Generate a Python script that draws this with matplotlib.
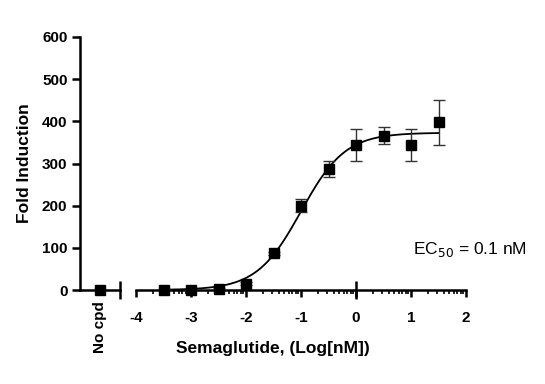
import numpy as np
import matplotlib
matplotlib.use("Agg")
import matplotlib.pyplot as plt

plt.rcParams['font.family'] = ['Liberation Sans', 'DejaVu Sans']
plt.rcParams['axes.unicode_minus'] = False

# data
log_conc = [-3.5, -3.0, -2.5, -2.0, -1.5, -1.0, -0.5, 0.0, 0.5, 1.0, 1.5]
fold = [1, 1, 3, 15, 87, 200, 287, 344, 366, 344, 398]
fold_err = [2, 2, 2, 3, 4, 15, 20, 38, 20, 37, 53]
no_cpd = 1
no_cpd_err = 2

# fitted 4PL parameters (EC50 = 0.1 nM)
bottom, top, log_ec50, hill = 0.0, 373.0, -1.0, 1.08

W, H = 545, 384
fig = plt.figure(figsize=(W / 100, H / 100), dpi=100)

# pixel geometry
y0_px, y600_px = 290, 37
ax_l = fig.add_axes([80 / W, 1 - y0_px / H, 40 / W, (y0_px - y600_px) / H])
ax = fig.add_axes([136 / W, 1 - y0_px / H, 330 / W, (y0_px - y600_px) / H], sharey=ax_l)

lw = 1.8

# small "No cpd" axis
ax_l.set_xlim(-1, 1)
ax_l.set_ylim(0, 600)
ax_l.errorbar([0], [no_cpd], yerr=[no_cpd_err], fmt='s', color='black', ms=6.5,
              ecolor='#333333', elinewidth=1, capsize=4, clip_on=False, zorder=5)
for s in ['top', 'right']:
    ax_l.spines[s].set_visible(False)
ax_l.spines['left'].set_linewidth(lw)
ax_l.spines['bottom'].set_linewidth(lw)
ax_l.set_yticks([0, 100, 200, 300, 400, 500, 600])
ax_l.tick_params(axis='y', direction='out', length=6, width=lw, labelsize=11, pad=3)
ax_l.set_xticks([0])
ax_l.set_xticklabels(['No cpd'], rotation=90, fontweight='bold', fontsize=11)
ax_l.tick_params(axis='x', length=0, pad=8)
for t in ax_l.get_yticklabels():
    t.set_fontweight('bold')
ax_l.set_ylabel('Fold Induction', fontsize=12.5, fontweight='bold', labelpad=7)
# end cap of the short axis
ax_l.plot([1], [0], marker='|', ms=13, mew=lw, color='black', clip_on=False,
          transform=ax_l.get_xaxis_transform())

# main axis
ax.set_xlim(-4, 2)
xs = np.linspace(-3.5, 1.5, 300)
ys = bottom + (top - bottom) / (1 + 10 ** ((log_ec50 - xs) * hill))
ax.plot(xs, ys, color='black', lw=1.3, zorder=3)
ax.errorbar(log_conc, fold, yerr=fold_err, fmt='s', color='black', ms=6.5,
            ecolor='#333333', elinewidth=1, capsize=4, clip_on=False, zorder=5)
for s in ['top', 'right', 'left']:
    ax.spines[s].set_visible(False)
ax.spines['bottom'].set_linewidth(lw)
ax.tick_params(axis='y', left=False, labelleft=False)
ax.set_xticks([-4, -3, -2, -1, 0, 1, 2])
minors = [n + np.log10(k) for n in range(-4, 2) for k in range(2, 10)]
ax.set_xticks(minors, minor=True)
ax.tick_params(axis='x', which='major', direction='out', length=5, width=lw, labelsize=11, pad=10)
ax.tick_params(axis='x', which='minor', direction='out', length=3, width=1.2)
for t in ax.get_xticklabels():
    t.set_fontweight('bold')
ax.plot([0], [0], marker='|', ms=13, mew=lw, color='black', clip_on=False,
        transform=ax.get_xaxis_transform())

# x label centred under both axis pieces
fig.text(273 / W, 1 - 348 / H, 'Semaglutide, (Log[nM])', fontsize=12.5, fontweight='bold',
         ha='center', va='center')

ax.text(2.07, 95, 'EC$_{50}$ = 0.1 nM', fontsize=12.5, ha='center', va='center')

fig.savefig('out.png', dpi=100)
